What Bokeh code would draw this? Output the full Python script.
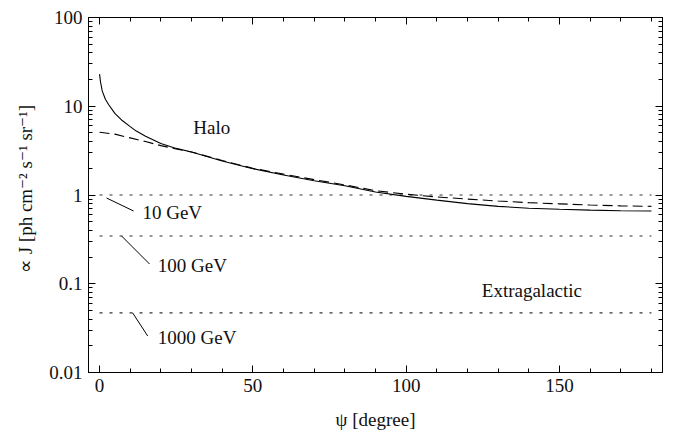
from bokeh.plotting import figure
from bokeh.models import (LinearAxis, LogAxis, SingleIntervalTicker, LogTicker,
                          Range1d, CustomJSTickFormatter)
from bokeh.embed import file_html
from bokeh.resources import INLINE
from bokeh.core.properties import value

# Halo J-factor, solid curve
psi_solid = [0, 0.3, 0.87, 1.9, 3.0, 5, 7.4, 10, 12, 15, 20, 25, 30, 40, 50, 60, 70, 80, 90, 100,
             110, 120, 130, 140, 150, 160, 170, 180]
j_solid = [23, 19, 14.9, 12.0, 10.4, 8.3, 6.9, 5.9, 5.25, 4.6, 3.8, 3.35, 3.05, 2.42, 1.98, 1.68,
           1.45, 1.27, 1.08, 0.965, 0.875, 0.80, 0.745, 0.71, 0.69, 0.675, 0.665, 0.66]

# Halo J-factor, dashed curve
psi_dashed = [0, 5, 10, 15, 20, 25, 30, 40, 50, 60, 70, 80, 90, 100, 110, 120, 130, 140, 150, 160,
              170, 180]
j_dashed = [5.1, 4.85, 4.4, 4.0, 3.6, 3.3, 3.05, 2.45, 2.0, 1.72, 1.49, 1.3, 1.12, 1.02, 0.95,
            0.90, 0.855, 0.82, 0.795, 0.77, 0.755, 0.745]

# Extragalactic levels
energies = ["10 GeV", "100 GeV", "1000 GeV"]
eg_level = [1.0, 0.345, 0.047]
eg_psi_start = [0, 0, 0]
eg_psi_end = [180, 180, 180]

# label leader lines (data coords) and label anchors
lead_x0 = [2.3, 7.2, 10.8]
lead_y0 = [0.925, 0.345, 0.047]
lead_x1 = [11.1, 16.3, 15.7]
lead_y1 = [0.66, 0.167, 0.0258]
lab_x = [14.0, 19.0, 19.0]
lab_y = [0.64, 0.159, 0.0245]

region_text = ["Halo", "Extragalactic"]
region_x = [36.6, 141.0]
region_y = [5.8, 0.083]

FONT = "Liberation Serif"
FS = "19px"
TXT = "#111111"

p = figure(frame_width=574, frame_height=355, y_axis_type="log",
           x_range=Range1d(-3.6, 183.6), y_range=Range1d(0.01, 100),
           output_backend="svg", toolbar_location=None,
           min_border_left=88, min_border_right=3, min_border_top=17, min_border_bottom=52,
           background_fill_color="white", border_fill_color="white")
p.grid.visible = False
p.outline_line_color = "black"

p.xaxis.ticker = SingleIntervalTicker(interval=50, num_minor_ticks=5)
p.yaxis.ticker = LogTicker(num_minor_ticks=10)
p.yaxis.formatter = CustomJSTickFormatter(code="return String(Number(tick.toPrecision(3)))")
p.xaxis.axis_label = "ψ [degree]"
p.yaxis.axis_label = "∝ J [ph cm⁻² s⁻¹ sr⁻¹]"

for ax in [p.xaxis[0], p.yaxis[0]]:
    ax.major_label_text_font = FONT
    ax.major_label_text_font_size = FS
    ax.major_label_text_color = TXT
    ax.axis_label_text_font = FONT
    ax.axis_label_text_font_size = FS
    ax.axis_label_text_font_style = "normal"
    ax.axis_label_text_color = TXT
    ax.major_tick_in = 7
    ax.major_tick_out = 0
    ax.minor_tick_in = 4
    ax.minor_tick_out = 0
    ax.axis_line_color = "black"
    ax.major_tick_line_color = "black"
    ax.minor_tick_line_color = "black"
p.xaxis.axis_label_standoff = 14
p.yaxis.axis_label_standoff = 10
p.yaxis.major_label_standoff = 6
p.xaxis.major_label_standoff = 6

blank = CustomJSTickFormatter(code="return ''")
top = LinearAxis(ticker=SingleIntervalTicker(interval=50, num_minor_ticks=5), formatter=blank,
                 major_tick_in=7, major_tick_out=0, minor_tick_in=4, minor_tick_out=0,
                 major_label_standoff=0)
right = LogAxis(ticker=LogTicker(num_minor_ticks=10), formatter=blank,
                major_tick_in=7, major_tick_out=0, minor_tick_in=4, minor_tick_out=0,
                major_label_standoff=0)
p.add_layout(top, "above")
p.add_layout(right, "right")

# extragalactic levels
p.segment(x0=eg_psi_start, y0=eg_level, x1=eg_psi_end, y1=eg_level,
          line_color="#333333", line_width=1.1, line_dash="3 7")

# halo curves
p.line(psi_solid, j_solid, line_color="black", line_width=1.1)
p.line(psi_dashed, j_dashed, line_color="black", line_width=1.1, line_dash="10 5")

# leader lines and labels
p.segment(x0=lead_x0, y0=lead_y0, x1=lead_x1, y1=lead_y1, line_color="black", line_width=1)
p.text(x=lab_x, y=lab_y, text=energies, text_font=value(FONT), text_font_size=FS,
       text_baseline="middle", text_align="left", text_color=TXT)
p.text(x=region_x, y=region_y, text=region_text, text_font=value(FONT), text_font_size=FS,
       text_baseline="middle", text_align="center", text_color=TXT)

open("out.html", "w").write(file_html(p, INLINE))
